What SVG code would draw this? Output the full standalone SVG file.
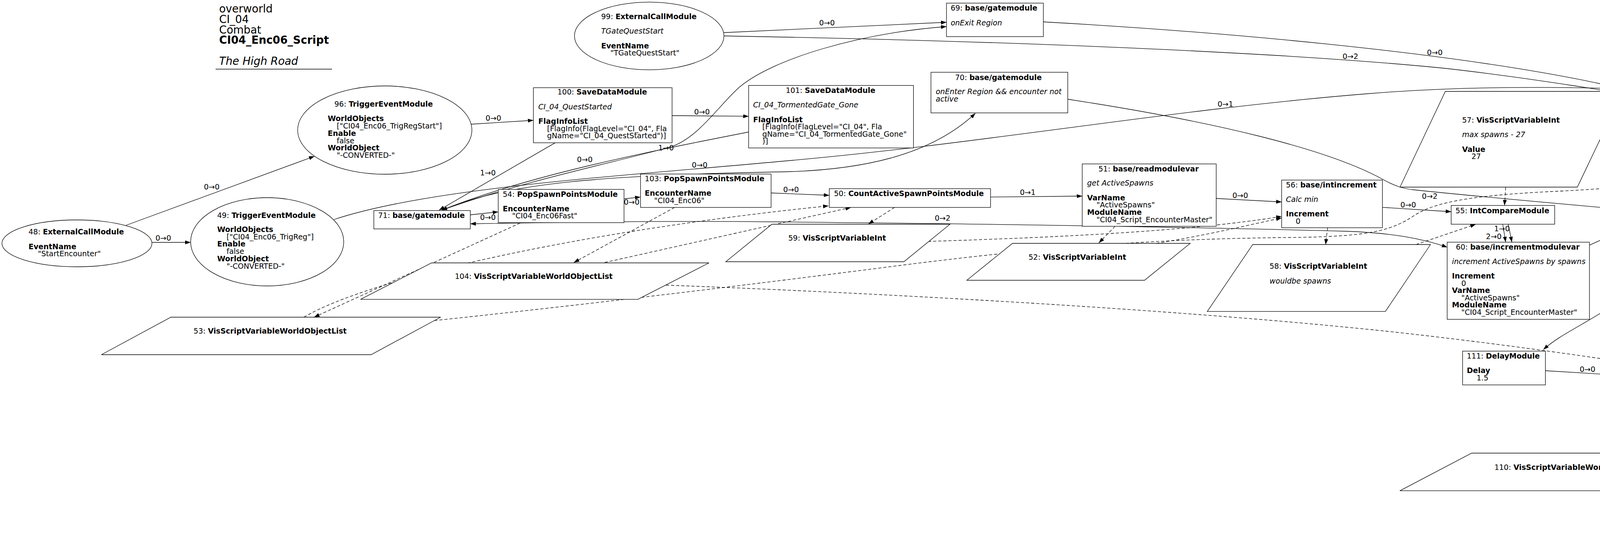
<svg xmlns="http://www.w3.org/2000/svg" width="5673" height="1408" viewBox="0 0 5673 1408">
<style>
text{font-family:"DejaVu Sans",Verdana,sans-serif;font-size:19px;fill:#000}
.b{font-weight:bold}
.i{font-style:italic}
.t{font-size:27.5px}
.l{text-anchor:middle}
.s{fill:#fff;stroke:#000;stroke-width:1.3}
.e{fill:none;stroke:#000;stroke-width:1.3;marker-end:url(#ah)}
.n{fill:none;stroke:#000;stroke-width:1.3}
.d{stroke-dasharray:8,5}
.bo{marker-start:url(#ah)}
</style>
<defs>
<marker id="ah" viewBox="0 0 14 10" refX="14" refY="5" markerWidth="14" markerHeight="10" markerUnits="userSpaceOnUse" orient="auto-start-reverse"><path d="M0,0 L14,5 L0,10 z" fill="#000"/></marker>
</defs>
<rect width="5673" height="1408" fill="#fff"/>
<g id="title">
<text class="t" x="561" y="32">overworld</text>
<text class="t" x="561" y="58.8">CI_04</text>
<text class="t" x="561" y="85.5">Combat</text>
<text class="t b" x="561" y="112.2">CI04_Enc06_Script</text>
<text class="t i" x="561" y="165.6">The High Road</text>
<line x1="552" y1="177" x2="850" y2="177" stroke="#000" stroke-width="1.3"/>
</g>
<g id="edges">
<path class="e" d="M322,577 L805,400"/>
<path class="e" d="M389,620.5 L488,620.5"/>
<path class="e" d="M1205,318 L1365.5,308"/>
<path class="e" d="M1720.7,296 L1916.5,297.7"/>
<path class="e" d="M1421,365.6 L1124,538"/>
<path class="e" d="M1916.5,338 C1650,390 1350,450 1131,538"/>
<path class="e" d="M1137,536 C1350,460 1600,410 1720,375 C1790,350 1840,270 1893,223 C1980,150 2200,85 2423,68"/>
<path class="e" d="M1140,535 C1300,468 1550,448 2000,440 C2200,436 2380,400 2497,290"/>
<path class="e" d="M1204,550 L1275.5,542.4"/>
<path class="e" d="M1597.6,509 L1639.7,504.4"/>
<path class="e" d="M1974,494 L2123,500"/>
<path class="e" d="M2535.8,504.4 L2770.5,502"/>
<path class="e" d="M3113.5,508 L3281,517"/>
<path class="e" d="M3539,530.8 L3715,542"/>
<path class="e bo" d="M1204,573 C1600,566 1800,566 2000,568 C2500,573 3000,580 3446,592 C3560,596 3640,610 3705,633"/>
<path class="e" d="M2733.5,254 C3100,310 3400,380 3545,462 C3570,475 3590,483 3620,486 C3800,505 4000,522 4200,540 C4400,560 4550,555 4686,529"/>
<path class="e" d="M3847,574 L3854.6,620"/>
<path class="e" d="M3861,574 L3870.5,620"/>
<path class="e" d="M4069,627.6 L4248,547"/>
<path class="e" d="M4347,547 C4290,660 4200,740 4100,800 C4040,838 3990,860 3951,895"/>
<path class="e" d="M3956,949 L4216.4,964.8"/>
<path class="e" d="M4554.6,1057.5 L4627,1100.5"/>
<path class="e" d="M4834.3,1120 L4929,1118.4"/>
<path class="e" d="M4929,1110 C4830,1090 4740,1050 4752,990 C4765,930 4880,880 4930,830 C4990,770 4990,680 4915,572"/>
<path class="e" d="M4590,932 C4700,892 4850,840 4950,789 L5058,725"/>
<path class="e" d="M4583,545 C4700,590 4850,630 5025,647.5"/>
<path class="e" d="M5282.5,671.4 L5325,674"/>
<path class="e" d="M4956.7,493.7 L5031,494.4"/>
<path class="e" d="M5219.7,455.6 L5281,401"/>
<path class="e" d="M1853,83.5 L2423,57"/>
<path class="e" d="M1853,92 C2600,105 3300,135 3700,175 C4100,220 4700,330 4982,414 C5020,425 5050,438 5081,455.6"/>
<path class="e" d="M2671,56 C3100,80 3700,130 4100,215 C4400,285 4600,360 4686,413"/>
<path class="n" d="M855,562 C1100,480 1600,450 2000,413 C2500,370 3000,280 3500,240 C3800,215 4100,222 4500,240 L5227.6,272.5"/>
<path class="e d" d="M1331.6,571 L804,812"/>
<path class="e d" d="M778,812 C950,710 1500,590 2121,527"/>
<path class="e d" d="M1548,672 L2178.6,531"/>
<path class="e d" d="M1727,531 L1469,672"/>
<path class="e d" d="M2290,531 L2223,573.6"/>
<path class="e d" d="M2854.6,579.4 L2813,621.8"/>
<path class="e d" d="M2376,618 C2700,608 3050,592 3281,554"/>
<path class="e d" d="M2960,623 C3100,600 3200,575 3281,558"/>
<path class="e d" d="M1099,822 C1500,780 1950,725 2300,680 C2600,642 2900,612 3300,608 C3500,606 3560,592 3620,552 C3680,512 3800,498 4000,489 C4100,484 4180,476 4229.6,472"/>
<path class="e d" d="M1705,730 C2200,748 3000,790 3550,848 C3800,875 4050,910 4216.4,935.7"/>
<path class="e d" d="M3398.6,583 L3393.5,626"/>
<path class="e d" d="M3854.6,479.5 L3851.5,526"/>
<path class="e d" d="M3625,626 L3778,574"/>
<path class="e d" d="M4440,547 L4526,758.5"/>
<path class="e d" d="M4596,547 C4800,650 4950,720 4990,770 C5020,820 5035,860 5037,897.7"/>
<path class="e d" d="M4587,758.5 L4746,572"/>
<path class="e d" d="M4644,758.5 L5083.7,541"/>
<path class="e d" d="M4272.6,1057.5 L4111,1160"/>
<path class="e d" d="M4402,1160 L4521.6,1146"/>
<path class="e d" d="M4593,855 L4668,1100.5"/>
<path class="e d" d="M4657,1100.5 L4577,855"/>
<path class="e d" d="M4448,1057.5 L4575.6,1306.5"/>
<path class="e d" d="M4697,1306.5 L5012,1138.6"/>
<path class="e d" d="M5051,1090.3 L5040.6,993.4"/>
<path class="e d" d="M5057,993.4 L5065.7,1090.3"/>
<path class="e d" d="M5055,897.7 L5116,725"/>
<path class="e d" d="M5138,725 L5071,897.7"/>
<path class="e d" d="M5119,897.7 C5220,830 5290,760 5305,690 C5325,600 5350,480 5372,401"/>
<text class="l" x="542" y="485">0→0</text>
<text class="l" x="418" y="616">0→0</text>
<text class="l" x="1263" y="309">0→0</text>
<text class="l" x="1797" y="293">0→0</text>
<text class="l" x="1249" y="449">1→0</text>
<text class="l" x="1497" y="415">0→0</text>
<text class="l" x="1705" y="385">1→0</text>
<text class="l" x="1791" y="429">0→0</text>
<text class="l" x="1249" y="563">0→0</text>
<text class="l" x="1617" y="524">0→0</text>
<text class="l" x="2025" y="492">0→0</text>
<text class="l" x="2631" y="499">0→1</text>
<text class="l" x="3175" y="507">0→0</text>
<text class="l" x="3605" y="531">0→0</text>
<text class="l" x="3660" y="509">0→2</text>
<text class="l" x="2413" y="565">0→2</text>
<text class="l" x="3845" y="592">1→0</text>
<text class="l" x="3824" y="612">2→0</text>
<text class="l" x="4137" y="579">0→0</text>
<text class="l" x="4145" y="735">0→0</text>
<text class="l" x="4064" y="952">0→0</text>
<text class="l" x="4571" y="1074">0→0</text>
<text class="l" x="4860" y="1114">0→0</text>
<text class="l" x="4901" y="859">0→1</text>
<text class="l" x="4811" y="862">1→0</text>
<text class="l" x="4779" y="602">1→0</text>
<text class="l" x="5303" y="688">0→0</text>
<text class="l" x="5003" y="510">0→2</text>
<text class="l" x="5229" y="423">0→0</text>
<text class="l" x="2117" y="65">0→0</text>
<text class="l" x="3457" y="151">0→2</text>
<text class="l" x="3673" y="141">0→0</text>
<text class="l" x="3137" y="273">0→1</text>
</g>
<g id="n48"><ellipse class="s" cx="197" cy="623" rx="192" ry="60"/>
<text x="73" y="600">48: <tspan class="b">ExternalCallModule</tspan></text>
<text class="b" x="73" y="637.5">EventName</text>
<text x="97" y="656">"StartEncounter"</text></g>
<g id="n96"><ellipse class="s" cx="985" cy="333" rx="223" ry="113"/>
<text x="856" y="273">96: <tspan class="b">TriggerEventModule</tspan></text>
<text class="b" x="839" y="310.4">WorldObjects</text>
<text x="862" y="329">["CI04_Enc06_TrigRegStart"]</text>
<text class="b" x="839" y="347.8">Enable</text>
<text x="862" y="366.5">false</text>
<text class="b" x="839" y="385">WorldObject</text>
<text x="862" y="404">"-CONVERTED-"</text></g>
<g id="n49"><ellipse class="s" cx="684" cy="619" rx="196" ry="113"/>
<text x="556" y="558">49: <tspan class="b">TriggerEventModule</tspan></text>
<text class="b" x="556" y="594">WorldObjects</text>
<text x="580" y="612.7">["CI04_Enc06_TrigReg"]</text>
<text class="b" x="556" y="631.4">Enable</text>
<text x="580" y="650">false</text>
<text class="b" x="556" y="668.8">WorldObject</text>
<text x="580" y="687.5">"-CONVERTED-"</text></g>
<g id="n99"><ellipse class="s" cx="1662" cy="92" rx="191.4" ry="86.6"/>
<text x="1539" y="49">99: <tspan class="b">ExternalCallModule</tspan></text>
<text class="i" x="1539" y="86">TGateQuestStart</text>
<text class="b" x="1539" y="123.7">EventName</text>
<text x="1562.5" y="142">"TGateQuestStart"</text></g>
<g id="n71"><rect class="s" x="957" y="539" width="247" height="47"/>
<text x="968" y="558">71: <tspan class="b">base/gatemodule</tspan></text></g>
<g id="n100"><rect class="s" x="1365.5" y="224.5" width="355" height="141"/>
<text x="1427" y="242.4">100: <tspan class="b">SaveDataModule</tspan></text>
<text class="i" x="1378" y="280">CI_04_QuestStarted</text>
<text class="b" x="1378" y="317">FlagInfoList</text>
<text x="1400.5" y="335.7">[FlagInfo(FlagLevel="CI_04", Fla</text>
<text x="1400.5" y="354">gName="CI_04_QuestStarted")]</text></g>
<g id="n101"><rect class="s" x="1916.5" y="218.7" width="422" height="160"/>
<text x="2011.5" y="237.5">101: <tspan class="b">SaveDataModule</tspan></text>
<text class="i" x="1928" y="274.5">CI_04_TormentedGate_Gone</text>
<text class="b" x="1928" y="312.5">FlagInfoList</text>
<text x="1951.6" y="330.5">[FlagInfo(FlagLevel="CI_04", Fla</text>
<text x="1951.6" y="349.5">gName="CI_04_TormentedGate_Gone"</text>
<text x="1951.6" y="368">)]</text></g>
<g id="n54"><rect class="s" x="1275.5" y="484.8" width="322" height="85.2"/>
<text x="1287" y="503.5">54: <tspan class="b">PopSpawnPointsModule</tspan></text>
<text class="b" x="1287" y="541">EncounterName</text>
<text x="1311" y="559">"CI04_Enc06Fast"</text></g>
<g id="n103"><rect class="s" x="1639.7" y="445.5" width="334.3" height="85.5"/>
<text x="1650.6" y="464">103: <tspan class="b">PopSpawnPointsModule</tspan></text>
<text class="b" x="1650.6" y="501">EncounterName</text>
<text x="1674.8" y="520">"CI04_Enc06"</text></g>
<g id="n69"><rect class="s" x="2423" y="8" width="248" height="85.7"/>
<text x="2433.7" y="26.8">69: <tspan class="b">base/gatemodule</tspan></text>
<text class="i" x="2433.7" y="64.7">onExit Region</text></g>
<g id="n70"><rect class="s" x="2383.3" y="185" width="350.2" height="104"/>
<text x="2445" y="204.5">70: <tspan class="b">base/gatemodule</tspan></text>
<text class="i" x="2395.5" y="241">onEnter Region &amp;&amp; encounter not</text>
<text class="i" x="2395.5" y="260">active</text></g>
<g id="n50"><rect class="s" x="2123" y="483" width="412.8" height="48"/>
<text x="2135" y="502">50: <tspan class="b">CountActiveSpawnPointsModule</tspan></text></g>
<g id="n51"><rect class="s" x="2770.5" y="419.6" width="343" height="159.8"/>
<text x="2812" y="438.8">51: <tspan class="b">base/readmodulevar</tspan></text>
<text class="i" x="2783" y="475.4">get ActiveSpawns</text>
<text class="b" x="2783" y="512.5">VarName</text>
<text x="2807" y="531">"ActiveSpawns"</text>
<text class="b" x="2783" y="550">ModuleName</text>
<text x="2807" y="568.5">"CI04_Script_EncounterMaster"</text></g>
<g id="n59"><polygon class="s" points="1976,574 2432,574 2314,670 1858,670"/>
<text x="2018" y="616">59: <tspan class="b">VisScriptVariableInt</tspan></text></g>
<g id="n52"><polygon class="s" points="2592,623 3047,623 2930,717.5 2475,717.5"/>
<text x="2633" y="665">52: <tspan class="b">VisScriptVariableInt</tspan></text></g>
<g id="n56"><rect class="s" x="3281" y="461" width="258" height="122"/>
<text x="3292" y="479.5">56: <tspan class="b">base/intincrement</tspan></text>
<text class="i" x="3292" y="517">Calc min</text>
<text class="b" x="3292" y="554">Increment</text>
<text x="3317" y="572.5">0</text></g>
<g id="n57"><polygon class="s" points="3700,234 4155,234 4038,479 3584,479"/>
<text x="3743" y="314">57: <tspan class="b">VisScriptVariableInt</tspan></text>
<text class="i" x="3743" y="351">max spawns - 27</text>
<text class="b" x="3743" y="389">Value</text>
<text x="3767" y="407">27</text></g>
<g id="n55"><rect class="s" x="3715" y="526" width="265" height="48"/>
<text x="3726" y="546">55: <tspan class="b">IntCompareModule</tspan></text></g>
<g id="n58"><polygon class="s" points="3207,626 3662,626 3546.6,797.4 3090.6,797.4"/>
<text x="3250" y="688">58: <tspan class="b">VisScriptVariableInt</tspan></text>
<text class="i" x="3250" y="726">wouldbe spawns</text></g>
<g id="n60"><rect class="s" x="3704.7" y="620" width="364.3" height="197.5"/>
<text x="3727" y="639">60: <tspan class="b">base/incrementmodulevar</tspan></text>
<text class="i" x="3717" y="676">increment ActiveSpawns by spawns</text>
<text class="b" x="3717" y="713">Increment</text>
<text x="3741" y="731.5">0</text>
<text class="b" x="3717" y="750">VarName</text>
<text x="3741" y="768.5">"ActiveSpawns"</text>
<text class="b" x="3717" y="787">ModuleName</text>
<text x="3741" y="806">"CI04_Script_EncounterMaster"</text></g>
<g id="n64"><rect class="s" x="4229.6" y="380" width="361" height="167"/>
<text x="4240.5" y="399">64: <tspan class="b">SpawnMonsterEventModule</tspan></text>
<text class="b" x="4240.5" y="436">NumberToSpawn</text>
<text x="4264.7" y="454.5">-1</text>
<text class="b" x="4240.5" y="473">IsRandom</text>
<text x="4264.7" y="491.6">false</text>
<text class="b" x="4240.5" y="510">DelayTime</text>
<text x="4264.7" y="528.7">0.5</text></g>
<g id="n61"><rect class="s" x="4688.8" y="412" width="268" height="159"/>
<text x="4699.7" y="431">61: <tspan class="b">base/distancedelay</tspan></text>
<text class="i" x="4699.7" y="468">if far from all creatures</text>
<text class="b" x="4699.7" y="505">Enabled</text>
<text x="4724" y="523.5">false</text>
<text class="b" x="4699.7" y="542">Distance</text>
<text x="4724" y="560.5">2400</text></g>
<g id="n62"><rect class="s" x="5031" y="455.6" width="281.4" height="84.7"/>
<text x="5042" y="475">62: <tspan class="b">ObjectToggleModule</tspan></text>
<text class="i" x="5042" y="512">delete creatures</text></g>
<g id="n65"><rect class="s" x="5227.6" y="166.3" width="371.2" height="234.7"/>
<text x="5252" y="185.2">65: <tspan class="b">base/incrementmodulevar</tspan></text>
<text class="i" x="5239" y="222.4">decrement ActiveSpawns by spawns</text>
<text class="b" x="5239" y="259.7">Increment</text>
<text x="5262.6" y="278.4">0</text>
<text class="b" x="5239" y="297.1">Operator</text>
<text x="5262.6" y="315.8">1</text>
<text class="b" x="5239" y="334.5">VarName</text>
<text x="5262.6" y="353.2">"ActiveSpawns"</text>
<text class="b" x="5239" y="371.9">ModuleName</text>
<text x="5262.6" y="390.6">"CI04_Script_EncounterMaster"</text></g>
<g id="n67"><rect class="s" x="5025" y="603" width="257.5" height="122"/>
<text x="5036.7" y="622">67: <tspan class="b">base/intincrement</tspan></text>
<text class="i" x="5036.7" y="659">decrement local count</text>
<text class="b" x="5036.7" y="696">Operator</text>
<text x="5060.7" y="714.5">1</text></g>
<g id="n66"><rect class="s" x="5325" y="586" width="343" height="196.6"/>
<text x="5336.4" y="605">66: <tspan class="b">base/incrementmodulevar</tspan></text>
<text class="i" x="5336.4" y="642">decrement ActiveSpawns by 1</text>
<text class="b" x="5336.4" y="679">Operator</text>
<text x="5361" y="697.7">1</text>
<text class="b" x="5336.4" y="716.4">VarName</text>
<text x="5361" y="735">"ActiveSpawns"</text>
<text class="b" x="5336.4" y="753.8">ModuleName</text>
<text x="5361" y="772.5">"CI04_Script_EncounterMaster"</text></g>
<g id="n63"><polygon class="s" points="4289,758.5 4980,758.5 4802,854.5 4111,854.5"/>
<text x="4347.6" y="801">63: <tspan class="b">VisScriptVariableWorldObjectList</tspan></text></g>
<g id="n53"><polygon class="s" points="437.5,812 1128,812 950,908 259.6,908"/>
<text x="495.6" y="853.5">53: <tspan class="b">VisScriptVariableWorldObjectList</tspan></text></g>
<g id="n104"><polygon class="s" points="1105,673 1815,673 1633,766.3 923,766.3"/>
<text x="1164.5" y="714">104: <tspan class="b">VisScriptVariableWorldObjectList</tspan></text></g>
<g id="n111"><rect class="s" x="3744.3" y="898.9" width="212" height="86.5"/>
<text x="3755" y="918.3">111: <tspan class="b">DelayModule</tspan></text>
<text class="b" x="3755" y="955.2">Delay</text>
<text x="3780" y="973.7">1.5</text></g>
<g id="n105"><rect class="s" x="4216.4" y="897.7" width="374" height="159.8"/>
<text x="4228" y="916.3">105: <tspan class="b">SpawnMonsterEventModule</tspan></text>
<text class="b" x="4228" y="953.5">NumberToSpawn</text>
<text x="4251.5" y="972.2">-1</text>
<text class="b" x="4228" y="990.9">IsRandom</text>
<text x="4251.5" y="1009.6">false</text>
<text class="b" x="4228" y="1028.3">DelayTime</text>
<text x="4251.5" y="1047">0.5</text></g>
<g id="n110"><polygon class="s" points="3767.5,1160 4477.4,1160 4295,1256.4 3583.7,1256.4"/>
<text x="3825.7" y="1203.3">110: <tspan class="b">VisScriptVariableWorldObjectList</tspan></text></g>
<g id="n107"><rect class="s" x="4521.6" y="1100.6" width="312.7" height="47.2"/>
<text x="4532" y="1119">107: <tspan class="b">base/mergelistmodule</tspan></text></g>
<g id="n108"><rect class="s" x="4928.9" y="1090.3" width="269.3" height="48.3"/>
<text x="4940" y="1108.8">108: <tspan class="b">base/intincrement</tspan></text></g>
<g id="n109"><polygon class="s" points="4427,1306.5 4901,1306.5 4779,1402.5 4304,1402.5"/>
<text x="4470" y="1348.7">109: <tspan class="b">VisScriptVariableInt</tspan></text></g>
<g id="n68"><polygon class="s" points="4874.4,897.7 5328.5,897.7 5211.8,993.4 4755.6,993.4"/>
<text x="4915" y="941">68: <tspan class="b">VisScriptVariableInt</tspan></text></g>
</svg>
